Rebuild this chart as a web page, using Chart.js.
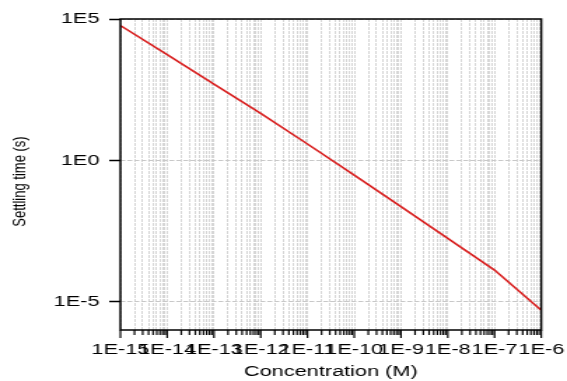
<!DOCTYPE html>
<html>
<head>
<meta charset="utf-8">
<script src="https://cdn.jsdelivr.net/npm/chart.js@4.4.1/dist/chart.umd.min.js"></script>
<style>
  html, body { margin: 0; padding: 0; background: #fff; overflow: hidden; }
  #wrap { width: 405px; height: 381px; transform: scale(1.4, 1); transform-origin: 0 0; }
</style>
</head>
<body>
<div id="wrap"><canvas id="chart" width="405" height="381"></canvas></div>
<script>
// Concentration (M) at each decade and the settling time (s) read at it
const concentration = [1e-15, 1e-14, 1e-13, 1e-12, 1e-11, 1e-10, 1e-9, 1e-8, 1e-7, 1e-6];
const settlingTime  = [5.9e4, 5.5e3, 5.0e2, 46, 3.8, 0.30, 0.023, 1.74e-3, 1.32e-4, 5.0e-6];

// Decade ticks and their labels
const xDecades = [1e-15, 1e-14, 1e-13, 1e-12, 1e-11, 1e-10, 1e-9, 1e-8, 1e-7, 1e-6];
const xTickLabels = ['1E-15', '1E-14', '1E-13', '1E-12', '1E-11', '1E-10', '1E-9', '1E-8', '1E-7', '1E-6'];
const yDecades = [1e-5, 1, 1e5];
const yTickLabels = ['1E-5', '1E0', '1E5'];

const FONT = "'Liberation Sans', Arial, Helvetica, sans-serif";

function decadeIndex(list, v) {
  return list.findIndex(d => Math.abs(Math.log10(d) - Math.log10(v)) < 1e-9);
}

// every 1..9 multiple inside each decade of the x range
function xMinorTicks() {
  const out = [];
  for (let n = -15; n < -6; n++) {
    for (let k = 1; k <= 9; k++) out.push({ value: parseFloat(k + 'e' + n) });
  }
  out.push({ value: 1e-6 });
  return out;
}

// y title drawn by hand so it can sit a little below the plot centre
const yTitlePlugin = {
  id: 'yTitle',
  afterDraw(chart) {
    const { ctx, chartArea: a } = chart;
    ctx.save();
    ctx.translate(14, (a.top + a.bottom) / 2 + 7);
    ctx.rotate(-Math.PI / 2);
    ctx.font = "13px " + FONT;
    ctx.fillStyle = '#000';
    ctx.textAlign = 'center';
    ctx.textBaseline = 'middle';
    ctx.fillText('Settling time (s)', 0, 0);
    ctx.restore();
  }
};

// closed frame around the plot and the x tick marks (long at decades)
const framePlugin = {
  id: 'frame',
  afterDraw(chart) {
    const { ctx, chartArea: a } = chart;
    const xs = chart.scales.x;
    ctx.save();
    ctx.strokeStyle = '#000';
    ctx.lineWidth = 1.2;
    ctx.beginPath();
    xs.ticks.forEach(t => {
      const px = xs.getPixelForValue(t.value);
      const major = decadeIndex(xDecades, t.value) >= 0;
      ctx.moveTo(px, a.bottom);
      ctx.lineTo(px, a.bottom + (major ? 8 : 5));
    });
    ctx.stroke();
    ctx.lineWidth = 1.5;
    ctx.strokeRect(a.left, a.top, a.right - a.left, a.bottom - a.top);
    ctx.restore();
  }
};

new Chart(document.getElementById('chart'), {
  type: 'scatter',
  data: {
    datasets: [{
      data: concentration.map((c, i) => ({ x: c, y: settlingTime[i] })),
      showLine: true,
      borderColor: '#d81e1e',
      borderWidth: 1.6,
      pointRadius: 0,
      tension: 0
    }]
  },
  options: {
    responsive: false,
    animation: false,
    devicePixelRatio: 1,
    layout: { padding: { top: 19, right: 17, bottom: 0, left: 0 } },
    plugins: { legend: { display: false }, tooltip: { enabled: false } },
    scales: {
      x: {
        type: 'logarithmic',
        min: 1e-15,
        max: 1e-6,
        afterBuildTicks: s => { s.ticks = xMinorTicks(); },
        afterFit: s => { s.height = 51; },
        border: { display: false, dash: [3, 1] },
        grid: {
          color: '#d6d6d6',
          lineWidth: 1,
          drawTicks: true,
          tickLength: 8,
          tickColor: 'rgba(0,0,0,0)'
        },
        ticks: {
          autoSkip: false,
          maxRotation: 0,
          minRotation: 0,
          padding: 2,
          color: '#000',
          font: { family: FONT, size: 15.5 },
          callback: v => {
            const i = decadeIndex(xDecades, v);
            return i >= 0 ? xTickLabels[i] : '';
          }
        },
        title: {
          display: true,
          text: 'Concentration (M)',
          color: '#000',
          font: { family: FONT, size: 15.5 },
          padding: { top: 0, bottom: 0 }
        }
      },
      y: {
        type: 'logarithmic',
        min: 1e-6,
        max: 1e5,
        afterBuildTicks: s => { s.ticks = yDecades.map(v => ({ value: v })); },
        afterFit: s => { s.width = 86; },
        border: { display: false, dash: [3.5, 1.5] },
        grid: {
          color: '#c8c8c8',
          lineWidth: 1,
          drawTicks: true,
          tickLength: 8,
          tickColor: '#000',
          tickWidth: 1.5
        },
        ticks: {
          autoSkip: false,
          padding: 7,
          color: '#000',
          font: { family: FONT, size: 15.5 },
          callback: v => {
            const i = decadeIndex(yDecades, v);
            return i >= 0 ? yTickLabels[i] : '';
          }
        },
        title: { display: false }
      }
    }
  },
  plugins: [framePlugin, yTitlePlugin]
});
</script>
</body>
</html>
